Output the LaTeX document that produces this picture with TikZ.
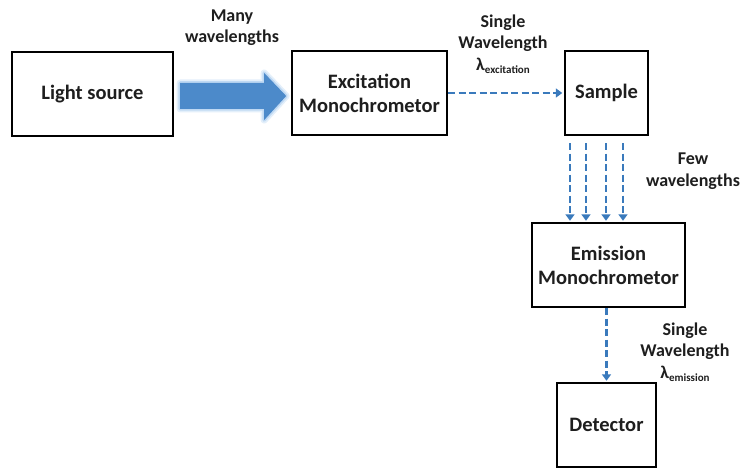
\documentclass[tikz,border=0pt]{standalone}
\usepackage{fontspec}
\setmainfont{Carlito}
\usepackage{tikz}
\usetikzlibrary{arrows.meta,calc}

\definecolor{flowblue}{RGB}{58,122,188}
\definecolor{beamblue}{RGB}{76,138,202}
\definecolor{glowblue}{RGB}{176,208,240}
\definecolor{inkgray}{RGB}{30,30,30}

\begin{document}
\begin{tikzpicture}[x=1pt,y=1pt,yscale=-1,xscale=1,
  unitbox/.style={draw=black,line width=2.4pt,fill=white,minimum height=84pt,align=center,
    text=inkgray,font=\fontsize{20.5}{24}\selectfont\bfseries},
  beamlabel/.style={align=center,text=inkgray,font=\fontsize{18}{21.5}\selectfont\bfseries},
  dasharrow/.style={draw=flowblue,line width=2.9pt,dash pattern={on 7pt off 3.5pt},
    -{Triangle[width=9pt,length=6.5pt]}}]
\useasboundingbox (0,0) rectangle (745,468);

% Boxes
\draw (92.5,94) node [unitbox,minimum width=161pt] (light) {Light source};
\draw (369.5,93) node [unitbox,minimum width=155pt] (excit) {Excitation\\Monochrometor};
\draw (606.5,93) node [unitbox,minimum width=83pt] (sample) {Sample};
\draw (608.5,265) node [unitbox,minimum width=153pt] (emission) {Emission\\Monochrometor};
\draw (606.5,425) node [unitbox,minimum width=99pt] (detector) {Detector};

%Big Arrow
\coordinate (bigtail) at ($(light.east)+(6,2)$);
\draw [shift={(bigtail)},glowblue,line width=7pt,line join=round,opacity=0.35]
  (0,-13) -- (84,-13) -- (84,-23) -- (106,0) -- (84,24) -- (84,13) -- (0,13) -- cycle;
\draw [shift={(bigtail)},glowblue,line width=3.5pt,line join=round,opacity=0.7]
  (0,-13) -- (84,-13) -- (84,-23) -- (106,0) -- (84,24) -- (84,13) -- (0,13) -- cycle;
\fill [shift={(bigtail)},beamblue]
  (0,-13) -- (84,-13) -- (84,-23) -- (106,0) -- (84,24) -- (84,13) -- (0,13) -- cycle;

%Straight Lines
\draw [dasharrow,shorten >=1.5pt] (excit.east) -- (sample.west);
\foreach \x in {570,586,606,623}
  \draw [dasharrow,shorten <=7pt,shorten >=1pt] (sample.south -| \x,0) -- (emission.north -| \x,0);
\draw [dasharrow,shorten >=1pt] (emission.south -| detector.north) -- (detector.north);

% Text Node
\draw (232,27.5) node [beamlabel] (manylbl) {Many\\wavelengths};
% Text Node
\draw (503,44) node [beamlabel] (exlbl) {Single\\Wavelength\\λ\raisebox{-0.4ex}{\fontsize{11}{11}\selectfont excitation}};
% Text Node
\draw (693,171) node [beamlabel] (fewlbl) {Few\\wavelengths};
% Text Node
\draw (685,352) node [beamlabel] (emlbl) {Single\\Wavelength\\λ\raisebox{-0.4ex}{\fontsize{11}{11}\selectfont emission}};

\end{tikzpicture}
\end{document}
